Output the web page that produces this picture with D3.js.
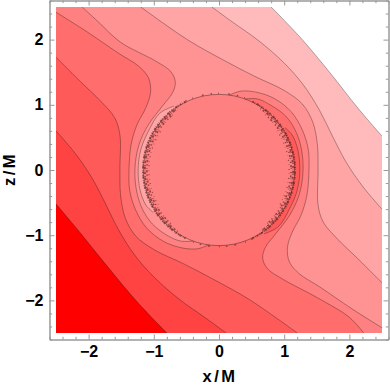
<!DOCTYPE html>
<html>
<head>
<meta charset="utf-8">
<script src="https://cdn.jsdelivr.net/npm/d3@7"></script>
<style>
  body { margin: 0; background: #fff; }
  svg { display: block; }
</style>
</head>
<body>
<svg id="chart" width="390" height="388"></svg>
<script>
// axis ticks
const xTicks = [-2, -1, 0, 1, 2];
const zTicks = [-2, -1, 0, 1, 2];

// band colours, from the lowest band (bottom left) to the highest (top right)
const bandColors = ["#ff0000", "#ff4343", "#ff5a5a", "#ff6d6d", "#ff8080",
                    "#ff9292", "#ffa5a5", "#ffbbbb", "#ffffff"];

// horizon radius (x/M)
const horizonR = 1.16;

// contour lines, points in (x/M, z/M)
const line01 = [[-2.5,-0.52],[-2.14,-0.95],[-1.72,-1.47],[-1.25,-2.03],[-0.80,-2.5]];
const line12 = [[-2.5,0.60],[-2.21,0.26],[-1.95,-0.12],[-1.74,-0.52],[-1.54,-0.92],[-1.29,-1.31],
                [-0.99,-1.65],[-0.60,-1.99],[-0.22,-2.26],[0.11,-2.5]];
const line23 = [[-2.5,1.73],[-2.15,1.38],[-1.80,1.04],[-1.60,0.80],[-1.52,0.54],[-1.52,0],[-1.51,-0.38],
                [-1.44,-0.73],[-1.28,-1.01],[-1.00,-1.22],[-0.54,-1.44],[-0.08,-1.68],[0.47,-1.99],[1.20,-2.5]];
// the 3|4 and 4|5 lines run into the horizon, one piece on each side
const line34a = [[-2.5,2.42],[-2.04,2.13],[-1.54,1.79],[-1.23,1.59],[-1.08,1.41],[-1.05,1.19],[-1.12,0.96],
                 [-1.26,0.69],[-1.35,0.38],[-1.38,0],[-1.37,-0.31],[-1.28,-0.61],[-1.11,-0.89],[-0.86,-1.09],
                 [-0.59,-1.19],[-0.34,-1.21],[-0.16,-1.15]];
const line34b = [[0.40,1.09],[0.59,1.09],[0.80,0.99],[1.02,0.83],[1.17,0.61],[1.26,0.34],[1.29,0],
                 [1.23,-0.38],[1.08,-0.70],[0.86,-0.99],[0.71,-1.19],[0.67,-1.35],[0.74,-1.51],[0.97,-1.67],
                 [1.51,-1.96],[2.00,-2.26],[2.22,-2.5]];
const line45a = [[-2.10,2.5],[-1.86,2.28],[-1.51,1.96],[-0.97,1.67],[-0.74,1.51],[-0.67,1.35],[-0.71,1.19],
                 [-0.86,0.99],[-1.08,0.70],[-1.23,0.38],[-1.29,0],[-1.26,-0.34],[-1.17,-0.61],[-1.02,-0.83],
                 [-0.80,-1.00],[-0.59,-1.09],[-0.40,-1.09]];
const line45b = [[0.16,1.15],[0.34,1.21],[0.59,1.19],[0.86,1.09],[1.11,0.89],[1.28,0.61],[1.37,0.31],
                 [1.38,0],[1.35,-0.38],[1.26,-0.69],[1.12,-0.96],[1.05,-1.19],[1.08,-1.41],[1.23,-1.59],
                 [1.54,-1.79],[2.04,-2.13],[2.5,-2.42]];
const line56 = [[-1.20,2.5],[-0.47,1.99],[0.08,1.68],[0.54,1.44],[1.00,1.22],[1.28,1.01],[1.44,0.73],
                [1.51,0.38],[1.52,0],[1.52,-0.54],[1.60,-0.80],[1.80,-1.04],[2.15,-1.38],[2.5,-1.73]];
const line67 = [[-0.11,2.5],[0.22,2.26],[0.60,1.99],[0.99,1.65],[1.29,1.31],[1.54,0.92],[1.74,0.52],
                [1.95,0.12],[2.21,-0.26],[2.5,-0.60]];
const line78 = [[0.80,2.5],[1.25,2.03],[1.72,1.47],[2.13,0.95],[2.5,0.52]];

// thin crescents hugging the horizon: outer edge, then inner edge
const crescentLeftOuter = [[-0.69,0.98],[-0.91,0.87],[-1.08,0.60],[-1.20,0.31],[-1.24,0],[-1.21,-0.31],
                           [-1.12,-0.54],[-1.01,-0.65]];
const crescentLeftInner = [[-1.01,-0.65],[-0.99,-0.48],[-1.10,0],[-0.96,0.53],[-0.79,0.76],[-0.69,0.98]];
const crescentRightOuter = [[0.69,-0.98],[0.91,-0.87],[1.08,-0.60],[1.20,-0.31],[1.24,0],[1.21,0.31],
                            [1.12,0.54],[1.01,0.65]];
const crescentRightInner = [[1.01,0.65],[0.99,0.48],[1.10,0],[0.96,-0.53],[0.79,-0.76],[0.69,-0.98]];

const svg = d3.select("#chart");

const x = d3.scaleLinear().domain([-2.6, 2.6]).range([49.5, 388.5]);
const y = d3.scaleLinear().domain([-2.6, 2.6]).range([339.5, 0.5]);

const lineGen = d3.line()
  .x(d => x(d[0]))
  .y(d => y(d[1]))
  .curve(d3.curveCatmullRom.alpha(0.5));

// join several curves and some corner points into one closed region
function regionPath(parts, corners) {
  let s = parts.map((p, i) => {
    let d = lineGen(p);
    return i ? d.replace(/^M/, "L") : d;
  }).join("");
  corners.forEach(c => { s += "L" + x(c[0]) + "," + y(c[1]); });
  return s + "Z";
}

svg.append("defs").append("clipPath").attr("id", "plotclip")
  .append("rect")
  .attr("x", x(-2.5)).attr("y", y(2.5))
  .attr("width", x(2.5) - x(-2.5)).attr("height", y(-2.5) - y(2.5));

const plot = svg.append("g").attr("clip-path", "url(#plotclip)");

plot.append("rect")
  .attr("x", x(-2.5)).attr("y", y(2.5))
  .attr("width", x(2.5) - x(-2.5)).attr("height", y(-2.5) - y(2.5))
  .attr("fill", bandColors[4]);

const BL = [-2.5, -2.5], TR = [2.5, 2.5];
const regions = [
  { parts: [line34a, line34b], corners: [BL], band: 3 },
  { parts: [line23], corners: [BL], band: 2 },
  { parts: [line12], corners: [BL], band: 1 },
  { parts: [line01], corners: [BL], band: 0 },
  { parts: [line45a, line45b], corners: [TR], band: 5 },
  { parts: [line56], corners: [TR], band: 6 },
  { parts: [line67], corners: [TR], band: 7 },
  { parts: [line78], corners: [TR], band: 8 }
];

plot.selectAll("path.region")
  .data(regions)
  .enter()
  .append("path")
  .attr("class", "region")
  .attr("d", d => regionPath(d.parts, d.corners))
  .attr("fill", d => bandColors[d.band]);

const crescents = [
  { outer: crescentLeftOuter, inner: crescentLeftInner, band: 6 },
  { outer: crescentRightOuter, inner: crescentRightInner, band: 2 }
];

plot.selectAll("path.crescent")
  .data(crescents)
  .enter()
  .append("path")
  .attr("class", "crescent")
  .attr("d", d => regionPath([d.outer, d.inner], []))
  .attr("fill", d => bandColors[d.band]);

// inside of the horizon
const cx = x(0), cy = y(0), rPx = x(horizonR) - x(0);
plot.append("circle")
  .attr("cx", cx).attr("cy", cy).attr("r", rPx)
  .attr("fill", bandColors[4]);

// contour strokes
const strokeLines = [line01, line12, line23, line34a, line34b, line45a, line45b, line56, line67, line78,
                     crescentLeftOuter, crescentRightOuter];
plot.selectAll("path.contour")
  .data(strokeLines)
  .enter()
  .append("path")
  .attr("class", "contour")
  .attr("d", lineGen)
  .attr("fill", "none")
  .attr("stroke", "#000")
  .attr("stroke-opacity", 0.38)
  .attr("stroke-width", 0.8);

// the ragged horizon contour
plot.append("circle")
  .attr("cx", cx).attr("cy", cy).attr("r", rPx)
  .attr("fill", "none")
  .attr("stroke", "#000")
  .attr("stroke-opacity", 0.45)
  .attr("stroke-width", 0.8);

function arcPath(r, a0, a1) {
  const p = d3.path();
  p.arc(cx, cy, r, a0 * Math.PI / 180, a1 * Math.PI / 180);
  return p.toString();
}
const noise = [
  { a0: 116, a1: 244, dr: 0.5, dash: "1.6 0.9 0.6 1.7 2.3 0.7 1 1.4", w: 1.8 },
  { a0: 124, a1: 236, dr: -1.5, dash: "0.8 2.1 1.9 0.9 0.5 1.5 2.6 0.6", w: 1.8 },
  { a0: 132, a1: 230, dr: -3.5, dash: "0.6 3 1.2 2.2 2 1.2", w: 1.6 },
  { a0: 150, a1: 214, dr: -5.5, dash: "0.5 4 1 3.5", w: 1.2 },
  { a0: -64, a1: 64, dr: 0.5, dash: "1.6 0.9 0.6 1.7 2.3 0.7 1 1.4", w: 1.8 },
  { a0: -56, a1: 56, dr: -1.5, dash: "0.8 2.1 1.9 0.9 0.5 1.5 2.6 0.6", w: 1.8 },
  { a0: -50, a1: 48, dr: -3.5, dash: "0.6 3 1.2 2.2 2 1.2", w: 1.6 },
  { a0: -34, a1: 30, dr: -5.5, dash: "0.5 4 1 3.5", w: 1.2 },
  { a0: 64, a1: 116, dr: 1, dash: "1.5 6 0.8 9 2 7", w: 1.3 },
  { a0: 244, a1: 296, dr: 1, dash: "1.5 6 0.8 9 2 7", w: 1.3 }
];
plot.selectAll("path.noise")
  .data(noise)
  .enter()
  .append("path")
  .attr("class", "noise")
  .attr("d", d => arcPath(rPx + d.dr, d.a0, d.a1))
  .attr("fill", "none")
  .attr("stroke", "#4a1818")
  .attr("stroke-opacity", 0.62)
  .attr("stroke-width", d => d.w)
  .attr("stroke-dasharray", d => d.dash);

// frame with ticks on all four sides
const frameColor = "#999";
const minorTicks = d3.range(-2.6, 2.61, 0.2).map(v => Math.round(v * 10) / 10)
  .filter(v => !xTicks.includes(v));
const fmt = d3.format("d");
const fontFamily = "'Liberation Sans', Arial, sans-serif";

function frameAxis(axis, tx, ty, labels) {
  const g = svg.append("g").attr("transform", `translate(${tx},${ty})`);
  g.call(axis.tickSizeOuter(0));
  g.select(".domain").attr("stroke", frameColor);
  g.selectAll(".tick line").attr("stroke", frameColor);
  g.selectAll("text")
    .attr("font-family", fontFamily)
    .attr("font-weight", "bold")
    .attr("font-size", 16)
    .attr("fill", "#000");
  if (!labels) g.selectAll("text").remove();
  return g;
}

frameAxis(d3.axisBottom(x).tickValues(xTicks).tickSize(-5).tickPadding(6).tickFormat(fmt), 0, y(-2.6), true);
frameAxis(d3.axisBottom(x).tickValues(minorTicks).tickSize(-2.7).tickFormat(""), 0, y(-2.6), false);
frameAxis(d3.axisTop(x).tickValues(xTicks).tickSize(-5).tickFormat(""), 0, y(2.6), false);
frameAxis(d3.axisTop(x).tickValues(minorTicks).tickSize(-2.7).tickFormat(""), 0, y(2.6), false);
frameAxis(d3.axisLeft(y).tickValues(zTicks).tickSize(-5).tickPadding(6).tickFormat(fmt), x(-2.6), 0, true);
frameAxis(d3.axisLeft(y).tickValues(minorTicks).tickSize(-2.7).tickFormat(""), x(-2.6), 0, false);
frameAxis(d3.axisRight(y).tickValues(zTicks).tickSize(-5).tickFormat(""), x(2.6), 0, false);
frameAxis(d3.axisRight(y).tickValues(minorTicks).tickSize(-2.7).tickFormat(""), x(2.6), 0, false);

// axis titles
svg.append("text")
  .attr("x", x(0) + 1).attr("y", 382)
  .attr("text-anchor", "middle")
  .attr("font-family", fontFamily)
  .attr("font-weight", "bold")
  .attr("font-size", 16.5)
  .attr("letter-spacing", 2.5)
  .text("x/M");

svg.append("text")
  .attr("transform", `translate(15,${y(0) - 1}) rotate(-90)`)
  .attr("text-anchor", "middle")
  .attr("font-family", fontFamily)
  .attr("font-weight", "bold")
  .attr("font-size", 16.5)
  .attr("letter-spacing", 2.5)
  .text("z/M");
</script>
</body>
</html>
